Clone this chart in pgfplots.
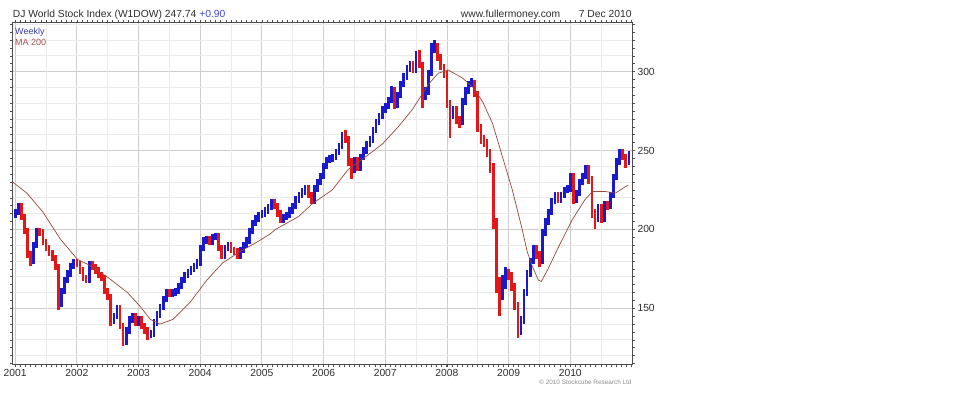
\documentclass[border=0pt]{standalone}
\usepackage{fontspec}
\setmainfont{Liberation Sans}
\usepackage{pgfplots}
\usepackage{pgfplotstable}
\pgfplotsset{compat=1.18}
\definecolor{barblue}{RGB}{25,25,205}
\definecolor{barred}{RGB}{228,22,22}
\definecolor{maline}{RGB}{150,72,62}
\definecolor{gridmaj}{RGB}{205,205,205}
\definecolor{gridmin}{RGB}{234,234,234}
\definecolor{txt}{RGB}{45,45,45}
\pgfplotstableread{
x l h
2001.00 207 213
2001.05 209 217
2001.30 178 192
2001.35 188 201
2001.75 151 163
2001.80 159 170
2001.85 166 174
2001.90 170 179
2001.95 175 181
2002.20 166 180
2002.60 140 147
2002.65 143 152
2002.80 127 138
2002.85 134 145
2002.90 141 147
2003.00 139 145
2003.20 131 136
2003.25 132 143
2003.30 139 148
2003.35 144 153
2003.40 149 158
2003.45 154 162
2003.55 157 162
2003.60 158 163
2003.65 159 166
2003.70 162 170
2003.75 166 173
2003.80 169 175
2003.85 171 177
2003.90 173 179
2003.95 175 181
2004.00 177 190
2004.05 186 195
2004.10 191 196
2004.20 190 197
2004.25 193 198
2004.40 181 190
2004.45 186 192
2004.65 181 189
2004.70 185 192
2004.75 188 195
2004.80 191 201
2004.85 197 206
2004.90 202 209
2004.95 205 211
2005.00 207 212
2005.05 208 214
2005.10 210 216
2005.15 212 219
2005.35 204 210
2005.40 206 211
2005.45 207 214
2005.50 210 217
2005.55 213 221
2005.60 217 224
2005.65 220 226
2005.70 222 228
2005.85 216 228
2005.90 224 232
2005.95 228 236
2006.00 232 242
2006.05 238 246
2006.10 242 247
2006.15 243 248
2006.20 244 251
2006.25 247 255
2006.30 251 262
2006.50 236 246
2006.60 237 248
2006.65 244 252
2006.70 248 256
2006.75 252 259
2006.80 255 265
2006.85 261 270
2006.90 266 274
2006.95 270 278
2007.00 274 280
2007.05 276 284
2007.10 280 291
2007.20 277 287
2007.25 283 294
2007.30 290 299
2007.35 295 304
2007.40 300 307
2007.50 299 313
2007.65 282 290
2007.70 285 301
2007.75 297 318
2007.80 312 320
2008.10 270 278
2008.25 266 283
2008.30 279 290
2008.35 286 294
2008.40 290 296
2008.90 155 171
2008.95 162 176
2009.20 133 145
2009.25 140 162
2009.30 158 174
2009.35 170 182
2009.40 178 190
2009.55 178 200
2009.60 196 207
2009.65 203 213
2009.70 209 220
2009.75 216 224
2009.85 217 224
2009.90 220 227
2009.95 223 228
2010.00 224 236
2010.10 217 225
2010.15 221 232
2010.20 228 236
2010.25 232 241
2010.45 205 216
2010.55 205 218
2010.65 213 224
2010.70 220 235
2010.75 231 245
2010.80 241 251
2010.95 241 250
}\upbars
\pgfplotstableread{
x l h
2001.10 206 217
2001.15 197 210
2001.20 182 201
2001.25 177 186
2001.40 196 201
2001.45 190 200
2001.50 186 194
2001.55 183 190
2001.60 180 187
2001.65 174 184
2001.70 149 178
2002.00 176 181
2002.05 172 180
2002.10 167 176
2002.15 166 171
2002.25 174 180
2002.30 172 178
2002.35 169 176
2002.40 167 173
2002.45 159 171
2002.50 155 163
2002.55 139 159
2002.70 137 152
2002.75 126 141
2002.95 139 147
2003.05 137 145
2003.10 134 141
2003.15 130 138
2003.50 157 162
2004.15 190 196
2004.30 186 198
2004.35 181 190
2004.50 185 192
2004.55 184 189
2004.60 181 188
2005.20 213 219
2005.25 208 217
2005.30 204 212
2005.75 220 228
2005.80 216 224
2006.35 255 263
2006.40 240 259
2006.45 232 245
2006.55 237 246
2007.15 276 290
2007.45 299 307
2007.55 302 314
2007.60 277 306
2007.85 307 318
2007.90 301 311
2007.95 296 305
2008.00 277 301
2008.05 258 282
2008.15 267 278
2008.20 264 272
2008.45 284 295
2008.50 262 288
2008.55 254 267
2008.60 252 260
2008.65 246 257
2008.70 236 251
2008.75 200 242
2008.80 160 207
2008.85 145 170
2009.00 168 175
2009.05 161 173
2009.10 149 166
2009.15 131 154
2009.45 181 190
2009.50 176 186
2009.80 217 224
2010.05 216 236
2010.30 229 241
2010.35 207 234
2010.40 200 213
2010.50 204 216
2010.60 212 218
2010.85 244 251
2010.90 239 248
}\downbars
\pgfplotstableread{
x y
2000.96 230
2001.19 223
2001.45 211
2001.73 194
2002.01 181
2002.17 178
2002.49 170
2002.82 160
2003.03 151
2003.19 143
2003.35 140
2003.56 143
2003.84 154
2004.11 168
2004.37 179
2004.65 186
2004.92 192
2005.13 197
2005.22 200
2005.59 208
2005.81 216
2006.14 225
2006.40 238
2006.68 246
2006.95 254
2007.21 265
2007.44 276
2007.70 292
2007.86 299
2008.02 301
2008.25 296
2008.45 289
2008.59 280
2008.74 267
2008.90 246
2009.06 225
2009.22 200
2009.30 186
2009.38 177
2009.48 168
2009.53 167
2009.64 175
2009.81 189
2010.03 206
2010.24 219
2010.36 224
2010.57 224
2010.73 223
2010.89 227
2010.94 228
}\matable
\begin{document}
\begin{tikzpicture}
\useasboundingbox (0,0) rectangle (960pt,396pt);
\begin{axis}[
  at={(12.7pt,32pt)}, anchor=south west,
  scale only axis, width=619.3pt, height=341.3pt,
  xmin=2000.96, xmax=2011.0, ymin=114.7, ymax=331,
  /pgf/number format/assume math mode=true,
  /pgf/number format/1000 sep={},
  xtick={2001,2002,...,2010},
  minor xtick={2001.0833,2001.1667,...,2011},
  ytick={150,200,250,300},
  minor ytick={115,120,...,330},
  yticklabel pos=right,
  xmajorgrids=true, ymajorgrids=true,
  xminorgrids=false, yminorgrids=false,
  major grid style={color=gridmaj, line width=0.8pt},
  extra x ticks={2001.5,2002.5,...,2010.5},
  extra x tick labels={},
  extra x tick style={major grid style={color=gridmin, line width=0.8pt}, major tick length=0pt},
  extra y ticks={120,130,140,160,170,180,190,210,220,230,240,260,270,280,290,310,320,330},
  extra y tick labels={},
  extra y tick style={major grid style={color=gridmin, line width=0.8pt}, major tick length=0pt},
  tick align=outside,
  major tick length=3pt, minor tick length=2.5pt,
  tick style={color=black!70, line width=0.6pt},
  axis line style={color=black!70, line width=0.8pt},
  tick label style={font=\fontsize{10.3}{12}\selectfont, color=txt},
  yticklabel style={xshift=-1pt},
  xticklabel style={yshift=1pt},
]
\addplot[draw=barred, line width=2.7pt, quiver={u=0, v=\thisrow{h}-\thisrow{l}}] table[x=x, y=l] {\downbars};
\addplot[draw=barblue, line width=2.7pt, quiver={u=0, v=\thisrow{h}-\thisrow{l}}] table[x=x, y=l] {\upbars};
\addplot[color=maline, line width=0.7pt, mark=none] table[x=x, y=y] {\matable};
\end{axis}
\node[anchor=base west, inner sep=0pt, text=txt, font=\fontsize{10.3}{12}\selectfont] at (12.7pt,378.7pt) {DJ World Stock Index (W1DOW) 247.74 \textcolor{barblue!80!white}{+0.90}};
\node[anchor=base west, inner sep=0pt, text=txt, font=\fontsize{10.3}{12}\selectfont] at (460.7pt,378.7pt) {www.fullermoney.com};
\node[anchor=base east, inner sep=0pt, text=txt, font=\fontsize{10.3}{12}\selectfont] at (631.7pt,378.7pt) {7 Dec 2010};
\node[anchor=base west, inner sep=0pt, text={rgb,255:red,60;green,60;blue,160}, font=\fontsize{9}{10}\selectfont] at (15pt,361.3pt) {Weekly};
\node[anchor=base west, inner sep=0pt, text={rgb,255:red,160;green,80;blue,80}, font=\fontsize{9}{10}\selectfont] at (15pt,350.3pt) {MA 200};
\node[anchor=base east, inner sep=0pt, text=black!45, font=\fontsize{6.4}{7}\selectfont] at (631.7pt,12pt) {\textcopyright\ 2010 Stockcube Research Ltd};
\end{tikzpicture}
\end{document}
